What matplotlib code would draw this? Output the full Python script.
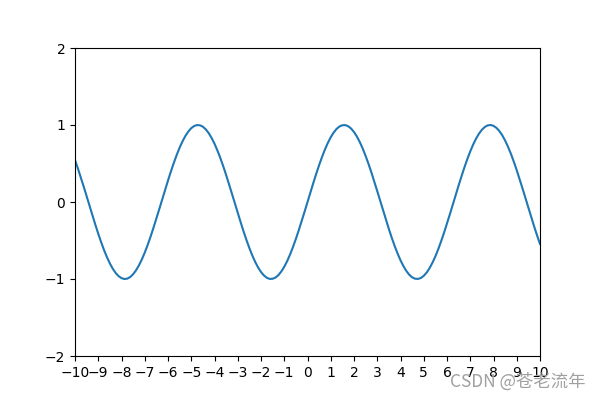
import numpy as np
import matplotlib
matplotlib.use('Agg')
import matplotlib.pyplot as plt

# values, x step 0.125 from -10 to 10
x_vals = np.linspace(-10, 10, 161)
y_left = [0.544, 0.435, 0.319, 0.199, 0.075, -0.050, -0.174, -0.295, -0.412, -0.522,
          -0.625, -0.717, -0.798, -0.867, -0.922, -0.963, -0.989, -1.000, -0.995, -0.974,
          -0.938, -0.887, -0.823, -0.746, -0.657, -0.558, -0.450, -0.335, -0.215, -0.092,
          0.033, 0.158, 0.279, 0.397, 0.508, 0.612, 0.706, 0.788, 0.859, 0.916,
          0.959, 0.987, 0.999, 0.996, 0.978, 0.944, 0.895, 0.832, 0.757, 0.669,
          0.572, 0.465, 0.351, 0.231, 0.108, -0.017, -0.141, -0.263, -0.382, -0.494,
          -0.598, -0.694, -0.778, -0.850, -0.909, -0.954, -0.984, -0.999, -0.997, -0.981,
          -0.949, -0.902, -0.841, -0.768, -0.682, -0.585, -0.479, -0.366, -0.247, -0.125]
y_right = [0.000, 0.125, 0.247, 0.366, 0.479, 0.585, 0.682, 0.768, 0.841, 0.902,
           0.949, 0.981, 0.997, 0.999, 0.984, 0.954, 0.909, 0.850, 0.778, 0.694,
           0.598, 0.494, 0.382, 0.263, 0.141, 0.017, -0.108, -0.231, -0.351, -0.465,
           -0.572, -0.669, -0.757, -0.832, -0.895, -0.944, -0.978, -0.996, -0.999, -0.987,
           -0.959, -0.916, -0.859, -0.788, -0.706, -0.612, -0.508, -0.397, -0.279, -0.158,
           -0.033, 0.092, 0.215, 0.335, 0.450, 0.558, 0.657, 0.746, 0.823, 0.887,
           0.938, 0.974, 0.995, 1.000, 0.989, 0.963, 0.922, 0.867, 0.798, 0.717,
           0.625, 0.522, 0.412, 0.295, 0.174, 0.050, -0.075, -0.199, -0.319, -0.435,
           -0.544]
y_vals = y_left + y_right
x_ticks = list(range(-10, 11))
y_ticks = [-2, -1, 0, 1, 2]

fig, ax = plt.subplots(figsize=(6, 4), dpi=100)
ax.plot(x_vals, y_vals)
ax.set_xlim(-10, 10)
ax.set_ylim(-2, 2)
ax.set_xticks(x_ticks)
ax.set_yticks(y_ticks)

# watermark
fig.text(0.975, 0.045, 'CSDN @苍老流年', ha='right', va='center', fontsize=12.5,
         color='#a0a0a0', family=['Noto Sans CJK SC', 'DejaVu Sans'])

plt.savefig('out.png', dpi=100)
